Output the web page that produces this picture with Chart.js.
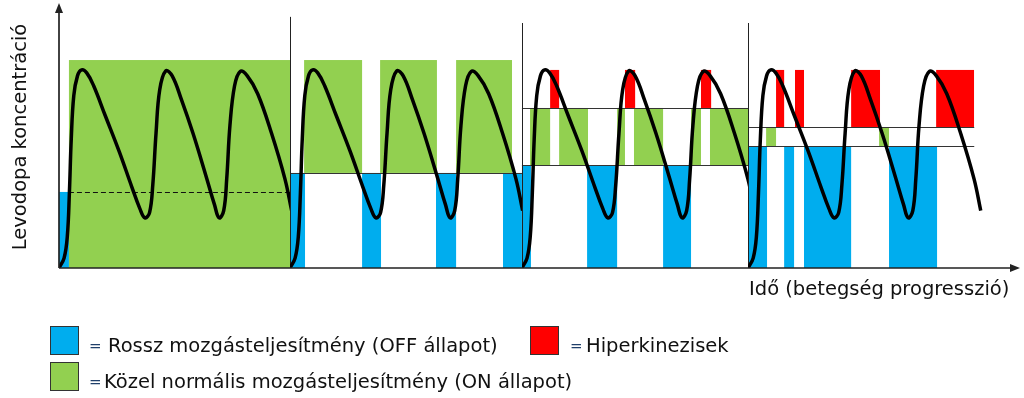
<!DOCTYPE html>
<html lang="hu">
<head>
<meta charset="UTF-8">
<title>Levodopa koncentráció</title>
<script src="https://cdn.jsdelivr.net/npm/chart.js@4.4.0/dist/chart.umd.min.js"></script>
<style>
    html, body { margin: 0; padding: 0; background: #fff; }
    #wrap { width: 1024px; height: 398px; position: relative; }
</style>
</head>
<body>
<div id="wrap"><canvas id="myChart"></canvas></div>

<script>
    // time axis: one disease stage is ~100 units, concentration: peak = 100
    const stageStarts = [0, 100, 200.4, 298.3];
    const stageEnds = [100, 200.4, 298.3, 416];
    const dividerTops = [null, 126.8, 123.7, 123.7];

    // one stage worth of the levodopa curve (3 doses), same in every stage
    const curveTime = [0, 2.2, 3.6, 4.5, 5.3, 6.4, 8.0, 9.8, 12.0, 15.0, 20.0, 26.0, 31.5, 35.0, 37.2,
        39.2, 40.6, 42.0, 43.6, 46.2, 49.0, 53.0, 58.0, 63.5, 67.3, 69.3,
        71.3, 72.6, 74.0, 76.0, 78.4, 81.5, 86.0, 92.0, 97.8, 100.7];
    const curveConc = [0, 5, 16, 38, 65, 87, 97, 100, 98.5, 92, 77, 59, 41, 30, 25.3,
        28, 42, 68, 90, 99.5, 97, 85, 68, 47, 32, 25.3,
        29, 45, 72, 92, 99.2, 97, 88, 68, 45, 29];

    // bands: [timeFrom, timeTo, concFrom, concTo]
    const offBands = [
        [0, 4.3, 0, 38.4],
        [100, 106.5, 0, 48], [131.2, 139.4, 0, 48], [163.2, 171.9, 0, 48], [192.2, 200.4, 0, 48],
        [200.4, 204.3, 0, 52], [228.6, 241.6, 0, 52], [261.5, 273.6, 0, 52],
        [298.3, 306.5, 0, 61.6], [313.9, 318.2, 0, 61.6], [322.5, 342.9, 0, 61.6], [359.3, 380.1, 0, 61.6]
    ];
    const onBands = [
        [4.3, 100, 0, 105],
        [106.1, 131.2, 48, 105], [139.0, 163.6, 48, 105], [171.9, 196.1, 48, 105],
        [203.9, 212.6, 52, 80.8], [216.5, 229.0, 52, 80.8], [241.6, 245.0, 52, 80.8], [248.9, 261.5, 52, 80.8],
        [273.6, 277.9, 52, 80.8], [281.8, 298.3, 52, 80.8],
        [306.1, 310.4, 61.6, 71.2], [355.0, 359.3, 61.6, 71.2]
    ];
    const dyskBands = [
        [212.6, 216.5, 80.8, 100], [245.0, 249.4, 80.8, 100], [277.9, 282.3, 80.8, 100],
        [310.4, 313.9, 71.2, 100], [318.6, 322.5, 71.2, 100], [342.9, 355.4, 71.2, 100], [379.7, 396.1, 71.2, 100]
    ];
    // threshold lines: [timeFrom, timeTo, conc]
    const thresholdLines = [[100, 200.4, 48], [200.4, 298.3, 52], [200.4, 298.3, 80.8], [298.3, 396.2, 61.6], [298.3, 396.2, 71.2]];
    const dashedLines = [[4.3, 100, 38.4]];

    const legendLabels = ['Rossz mozgásteljesítmény (OFF állapot)', 'Közel normális mozgásteljesítmény (ON állapot)', 'Hiperkinezisek'];
    const yTitle = 'Levodopa koncentráció';
    const xTitle = 'Idő (betegség progresszió)';

    const BLUE = '#00adee';
    const GREEN = '#92d050';
    const RED = '#ff0000';
    const FONT = '"DejaVu Sans", Verdana, sans-serif';

    // one dataset per stage
    let datasets = [];
    for (let s = 0; s < stageStarts.length; s++) {
        datasets.push({
            data: curveTime.map((t, i) => ({x: stageStarts[s] + t, y: curveConc[i]})),
            borderColor: '#000',
            borderWidth: 3.5,
            pointRadius: 0,
            tension: 0.4,
            fill: false
        });
    }

    const bandsPlugin = {
        id: 'bands',
        beforeDatasetsDraw(chart) {
            const {ctx, scales: {x, y}} = chart;
            const rect = (b, color) => {
                const x0 = x.getPixelForValue(b[0]), x1 = x.getPixelForValue(b[1]);
                const y0 = y.getPixelForValue(b[3]), y1 = y.getPixelForValue(b[2]);
                ctx.fillStyle = color;
                ctx.fillRect(x0, y0, x1 - x0, y1 - y0);
            };
            ctx.save();
            onBands.forEach(b => rect(b, GREEN));
            offBands.forEach(b => rect(b, BLUE));
            dyskBands.forEach(b => rect(b, RED));

            ctx.strokeStyle = '#333';
            ctx.lineWidth = 1;
            thresholdLines.forEach(l => {
                const yy = Math.round(y.getPixelForValue(l[2])) + 0.5;
                ctx.beginPath();
                ctx.moveTo(x.getPixelForValue(l[0]), yy);
                ctx.lineTo(x.getPixelForValue(l[1]), yy);
                ctx.stroke();
            });
            ctx.setLineDash([5, 3]);
            ctx.strokeStyle = '#111';
            dashedLines.forEach(l => {
                const yy = Math.round(y.getPixelForValue(l[2])) + 0.5;
                ctx.beginPath();
                ctx.moveTo(x.getPixelForValue(l[0]), yy);
                ctx.lineTo(x.getPixelForValue(l[1]), yy);
                ctx.stroke();
            });
            ctx.setLineDash([]);
            ctx.strokeStyle = '#222';
            stageStarts.forEach((t, i) => {
                if (dividerTops[i] === null) return;
                const xx = Math.round(x.getPixelForValue(t)) + 0.5;
                ctx.beginPath();
                ctx.moveTo(xx, y.getPixelForValue(dividerTops[i]));
                ctx.lineTo(xx, y.getPixelForValue(0));
                ctx.stroke();
            });
            ctx.restore();
        },
        // keep each stage's curve inside its own stage
        beforeDatasetDraw(chart, args) {
            const {ctx, chartArea, scales: {x}} = chart;
            const s = args.index;
            const x0 = x.getPixelForValue(stageStarts[s]);
            const x1 = x.getPixelForValue(stageEnds[s]);
            ctx.save();
            ctx.beginPath();
            ctx.rect(x0, 0, x1 - x0, chartArea.bottom + 5);
            ctx.clip();
        },
        afterDatasetDraw(chart) {
            chart.ctx.restore();
        },
        afterDraw(chart) {
            const {ctx, chartArea, scales: {x, y}} = chart;
            const ox = x.getPixelForValue(0), oy = y.getPixelForValue(0);
            ctx.save();
            // axes with arrow heads
            ctx.strokeStyle = '#222';
            ctx.fillStyle = '#222';
            ctx.lineWidth = 1.7;
            ctx.beginPath();
            ctx.moveTo(ox, oy);
            ctx.lineTo(ox, chartArea.top + 8);
            ctx.moveTo(ox, oy);
            ctx.lineTo(chartArea.right - 8, oy);
            ctx.stroke();
            ctx.beginPath();
            ctx.moveTo(ox, chartArea.top);
            ctx.lineTo(ox - 4, chartArea.top + 10);
            ctx.lineTo(ox + 4, chartArea.top + 10);
            ctx.closePath();
            ctx.fill();
            ctx.beginPath();
            ctx.moveTo(chartArea.right, oy);
            ctx.lineTo(chartArea.right - 10, oy - 4);
            ctx.lineTo(chartArea.right - 10, oy + 4);
            ctx.closePath();
            ctx.fill();

            // axis titles
            ctx.fillStyle = '#111';
            ctx.font = '19.5px ' + FONT;
            ctx.textBaseline = 'alphabetic';
            ctx.textAlign = 'left';
            ctx.fillText(xTitle, 749, 295);
            ctx.save();
            ctx.translate(26, 137);
            ctx.rotate(-Math.PI / 2);
            ctx.textAlign = 'center';
            ctx.fillText(yTitle, 0, 0);
            ctx.restore();

            // legend
            const items = [
                {color: BLUE, box: [50, 326], eq: 90, text: 108, base: 352, label: legendLabels[0]},
                {color: GREEN, box: [50, 362], eq: 90, text: 104, base: 388, label: legendLabels[1]},
                {color: RED, box: [530, 326], eq: 571, text: 586, base: 352, label: legendLabels[2]}
            ];
            items.forEach(it => {
                ctx.fillStyle = it.color;
                ctx.fillRect(it.box[0], it.box[1], 28, 28);
                ctx.strokeStyle = '#333';
                ctx.lineWidth = 1;
                ctx.strokeRect(it.box[0] + 0.5, it.box[1] + 0.5, 28, 28);
                ctx.textAlign = 'left';
                ctx.fillStyle = '#1f3f6a';
                ctx.font = '15px ' + FONT;
                ctx.fillText('=', it.eq - 1, it.base - 1);
                ctx.fillStyle = '#111';
                ctx.font = '19.5px ' + FONT;
                ctx.fillText(it.label, it.text, it.base);
            });
            ctx.restore();
        }
    };

    new Chart(document.getElementById('myChart'), {
        type: 'line',
        data: {datasets: datasets},
        options: {
            responsive: true,
            maintainAspectRatio: false,
            animation: false,
            events: [],
            layout: {padding: {left: 59, right: 4, top: 3, bottom: 130}},
            scales: {
                x: {type: 'linear', min: 0, max: 416, display: false},
                y: {type: 'linear', min: 0, max: 133.8, display: false}
            },
            plugins: {legend: {display: false}, tooltip: {enabled: false}}
        },
        plugins: [bandsPlugin]
    });
</script>
</body>
</html>
